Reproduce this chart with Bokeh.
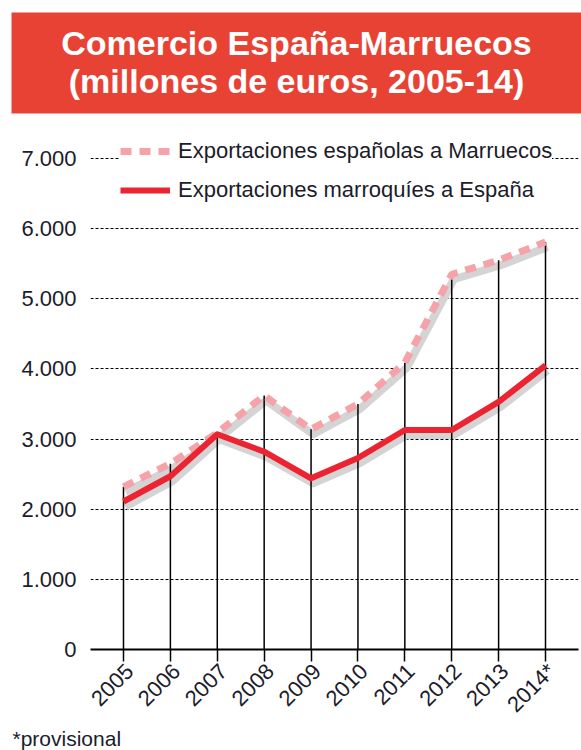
import math
from bokeh.plotting import figure
from bokeh.models import (Range1d, FixedTicker, Legend, LegendItem, ColumnDataSource,
                          LinearAxis)
from bokeh.core.properties import value
from bokeh.embed import file_html
from bokeh.resources import INLINE

# ---- data ----
years = [2005, 2006, 2007, 2008, 2009, 2010, 2011, 2012, 2013, 2014]
year_labels = ["2005", "2006", "2007", "2008", "2009", "2010", "2011", "2012", "2013", "2014*"]
export_es_to_ma = [2320, 2650, 3090, 3620, 3140, 3500, 4090, 5350, 5550, 5810]
export_ma_to_es = [2110, 2470, 3070, 2820, 2440, 2730, 3130, 3130, 3530, 4050]
y_ticks = [0, 1000, 2000, 3000, 4000, 5000, 6000, 7000]
y_tick_labels = ["0", "1.000", "2.000", "3.000", "4.000", "5.000", "6.000", "7.000"]
series_names = ["Exportaciones españolas a Marruecos", "Exportaciones marroquíes a España"]
title_lines = ["Comercio España-Marruecos", "(millones de euros, 2005-14)"]
footnote = ["*provisional"]

FONT = "Liberation Sans"
TXT = "#1c1c2a"
PINK = "#f5a2a9"
RED = "#ec2330"
SHADOW = "#d4d4d4"
TITLE_RED = "#e84235"

W = 581

# ---- title figure (page y 0..118) ----
TH = 118
tf = figure(width=W, height=TH, x_range=Range1d(0, W), y_range=Range1d(TH, 0),
            x_axis_type=None, y_axis_type=None, toolbar_location=None,
            output_backend="svg", min_border=0)
tf.outline_line_color = None
tf.grid.visible = False
tf.quad(left=11, right=W, top=12, bottom=113, fill_color=TITLE_RED, line_color=None)
tf.text(x=[296, 296], y=[42, 80], text=title_lines, text_align="center",
        text_baseline="middle", text_color="white", text_font=value(FONT),
        text_font_style="bold", text_font_size="34px")

# ---- chart figure (page y 118..728) ----
CH = 610
px_per_year = 46.9
x0 = 2005 - 33 / px_per_year
x1 = 2014 + 33 / px_per_year
YMAX = 7400
p = figure(width=W, height=CH, x_range=Range1d(x0, x1), y_range=Range1d(0, YMAX),
           toolbar_location=None, output_backend="svg",
           min_border_left=90, min_border_right=3, min_border_top=12,
           min_border_bottom=CH - 532)
p.outline_line_color = None

# shadow ranges (offset a few pixels down/right) and label range (shift right)
dy = 5 / 70.3 * 1000
dx = 2 / px_per_year
lx = 6 / px_per_year
p.extra_y_ranges = {"sh": Range1d(0 + dy, YMAX + dy)}
p.extra_x_ranges = {"sh": Range1d(x0 - dx, x1 - dx), "lab": Range1d(x0 - lx, x1 - lx)}

src = ColumnDataSource(dict(x=years, es=export_es_to_ma, ma=export_ma_to_es,
                            zero=[0] * len(years)))

p.line("x", "es", source=src, line_color=SHADOW, line_width=8,
       x_range_name="sh", y_range_name="sh", line_join="round")
p.line("x", "ma", source=src, line_color=SHADOW, line_width=8,
       x_range_name="sh", y_range_name="sh", line_join="round")
p.segment(x0="x", y0="zero", x1="x", y1="es", source=src, line_color="black", line_width=1.5)
r_es = p.line("x", "es", source=src, line_color=PINK, line_width=7, line_dash="11 8")
r_ma = p.line("x", "ma", source=src, line_color=RED, line_width=6, line_join="round")

# main x axis: line + tick marks only
xa = p.xaxis[0]
xa.ticker = FixedTicker(ticks=years)
xa.major_label_overrides = {y: "" for y in years}
xa.major_label_text_font_size = "0px"
xa.major_label_text_color = None
xa.major_label_standoff = 0
xa.axis_line_color = "black"
xa.axis_line_width = 2
xa.major_tick_in = 0
xa.major_tick_out = 12
xa.major_tick_line_width = 1.5
xa.major_tick_line_color = "black"
xa.minor_tick_line_color = None

# label axis (year labels, rotated)
la = LinearAxis(x_range_name="lab", ticker=FixedTicker(ticks=years),
                major_label_overrides={y: l for y, l in zip(years, year_labels)},
                major_label_orientation=math.pi / 4,
                major_label_text_font=FONT, major_label_text_font_size="22px",
                major_label_text_color=TXT, major_label_standoff=6,
                axis_line_color=None, major_tick_line_color=None,
                major_tick_in=0, major_tick_out=0, minor_tick_line_color=None)
p.add_layout(la, "below")

p.yaxis.ticker = FixedTicker(ticks=y_ticks)
p.yaxis.major_label_overrides = {t: l for t, l in zip(y_ticks, y_tick_labels)}
p.yaxis.major_label_text_font = FONT
p.yaxis.major_label_text_font_size = "22px"
p.yaxis.major_label_text_color = TXT
p.yaxis.axis_line_color = None
p.yaxis.major_tick_line_color = None
p.yaxis.minor_tick_line_color = None
p.yaxis.major_label_standoff = 8

p.xgrid.visible = False
p.ygrid.ticker = FixedTicker(ticks=y_ticks[1:])
p.ygrid.grid_line_color = "black"
p.ygrid.grid_line_dash = "3 2"
p.ygrid.grid_line_width = 1

legend = Legend(items=[LegendItem(label=series_names[0], renderers=[r_es]),
                       LegendItem(label=series_names[1], renderers=[r_ma])],
                location=(30, 446), background_fill_color="white", background_fill_alpha=1,
                border_line_color=None, padding=5, margin=0, spacing=13,
                glyph_width=50, glyph_height=22, label_height=22, label_standoff=8,
                label_text_font=FONT, label_text_font_size="22px", label_text_color=TXT)
p.add_layout(legend, "center")

# ---- footnote figure (page y 728..750) ----
FH = 22
ff = figure(width=W, height=FH, x_range=Range1d(0, W), y_range=Range1d(FH, 0),
            x_axis_type=None, y_axis_type=None, toolbar_location=None,
            output_backend="svg", min_border=0)
ff.outline_line_color = None
ff.grid.visible = False
ff.text(x=[12], y=[10], text=footnote, text_align="left", text_baseline="middle",
        text_color=TXT, text_font=value(FONT), text_font_size="21px")

open("out.html", "w").write(file_html([tf, p, ff], INLINE))
